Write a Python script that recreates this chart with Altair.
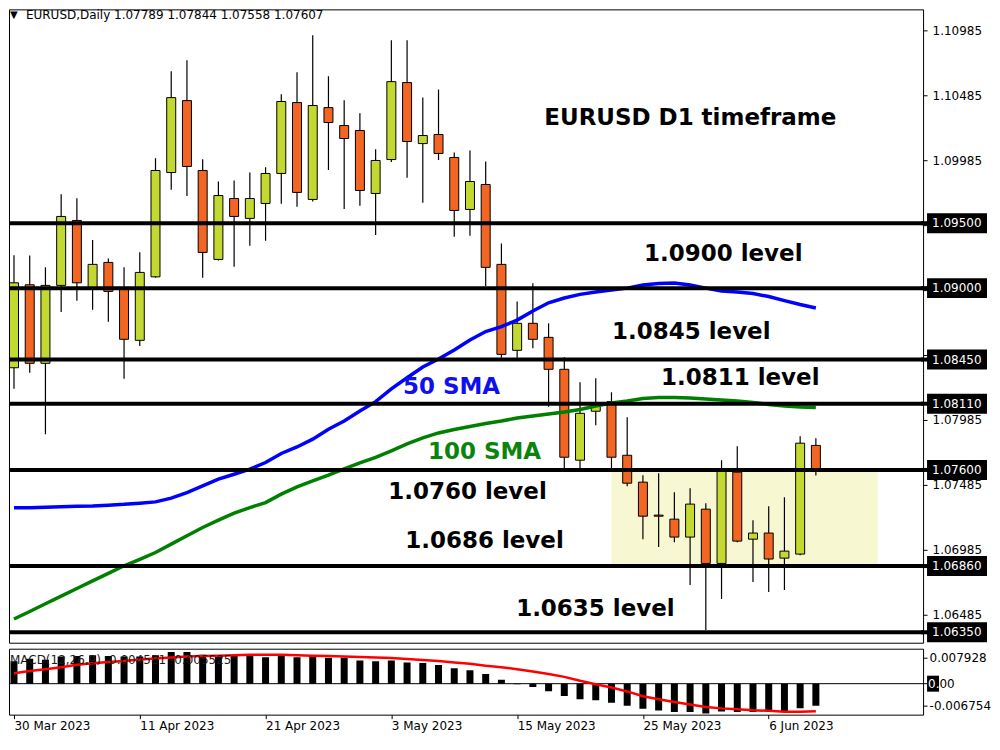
import altair as alt
import pandas as pd

# ---------------- data ----------------
tick_index = [0, 8, 16, 24, 32, 40, 48]
tick_labels = ["30 Mar 2023", "11 Apr 2023", "21 Apr 2023", "3 May 2023",
               "15 May 2023", "25 May 2023", "6 Jun 2023"]

open_ = [1.08387, 1.09026, 1.08421, 1.09021, 1.09521, 1.09003, 1.09198, 1.09003, 1.08598, 1.09087,
         1.09890, 1.10444, 1.09906, 1.09221, 1.09690, 1.09537, 1.09652, 1.09883, 1.10429, 1.09683,
         1.10390, 1.10252, 1.10214, 1.09729, 1.09990, 1.10583, 1.10113, 1.10183, 1.10006, 1.09606,
         1.09798, 1.09183, 1.08521, 1.08729, 1.08621, 1.08375, 1.07675, 1.08052, 1.08126, 1.07713,
         1.07506, 1.07252, 1.07221, 1.07083, 1.07298, 1.06880, 1.07583, 1.07067, 1.07114, 1.06921,
         1.06952, 1.07789]
high = [1.09254, 1.09252, 1.09160, 1.09723, 1.09693, 1.09370, 1.09229, 1.09160, 1.09277, 1.10000,
        1.10670, 1.10754, 1.09993, 1.09821, 1.09829, 1.09890, 1.09931, 1.10493, 1.10662, 1.10947,
        1.10631, 1.10447, 1.10347, 1.10070, 1.10908, 1.10908, 1.10467, 1.10529, 1.10044, 1.10060,
        1.09975, 1.09344, 1.08898, 1.09037, 1.08729, 1.08467, 1.08275, 1.08306, 1.08198, 1.08006,
        1.07560, 1.07575, 1.07429, 1.07460, 1.07344, 1.07675, 1.07783, 1.07213, 1.07321, 1.07390,
        1.07860, 1.07844]
low = [1.08226, 1.08349, 1.07875, 1.08816, 1.08903, 1.08833, 1.08741, 1.08303, 1.08554, 1.09080,
       1.09757, 1.09710, 1.09080, 1.09213, 1.09164, 1.09326, 1.09364, 1.09649, 1.09626, 1.09667,
       1.09910, 1.09610, 1.09634, 1.09410, 1.09972, 1.09849, 1.09657, 1.09987, 1.09395, 1.09403,
       1.09014, 1.08464, 1.08464, 1.08537, 1.08087, 1.07613, 1.07613, 1.07944, 1.07613, 1.07475,
       1.07067, 1.07006, 1.07044, 1.06714, 1.06367, 1.06606, 1.07044, 1.06737, 1.06660, 1.06675,
       1.06944, 1.07558]
close = [1.09041, 1.08421, 1.09021, 1.09552, 1.09041, 1.09183, 1.08975, 1.08606, 1.09121, 1.09906,
         1.10467, 1.09937, 1.09275, 1.09713, 1.09552, 1.09690, 1.09883, 1.10437, 1.09737, 1.10406,
         1.10275, 1.10152, 1.09752, 1.09983, 1.10590, 1.10129, 1.10175, 1.10037, 1.09598, 1.09821,
         1.09160, 1.08490, 1.08729, 1.08606, 1.08375, 1.07698, 1.08036, 1.08106, 1.07698, 1.07498,
         1.07244, 1.07244, 1.07083, 1.07337, 1.06880, 1.07598, 1.07052, 1.07114, 1.06914, 1.06975,
         1.07806, 1.07607]
sma50 = [1.07308, 1.07308, 1.07312, 1.07316, 1.07320, 1.07323, 1.07329, 1.07335, 1.07344, 1.07354,
         1.07383, 1.07426, 1.07477, 1.07529, 1.07567, 1.07606, 1.07657, 1.07727, 1.07777, 1.07837,
         1.07914, 1.07977, 1.08054, 1.08126, 1.08224, 1.08310, 1.08393, 1.08454, 1.08524, 1.08600,
         1.08666, 1.08704, 1.08754, 1.08824, 1.08887, 1.08924, 1.08952, 1.08970, 1.08985, 1.09000,
         1.09024, 1.09035, 1.09039, 1.09024, 1.09000, 1.08977, 1.08970, 1.08958, 1.08935, 1.08904,
         1.08874, 1.08847]
sma100 = [1.06452, 1.06510, 1.06570, 1.06628, 1.06687, 1.06746, 1.06804, 1.06862, 1.06912, 1.06964,
          1.07029, 1.07093, 1.07157, 1.07213, 1.07267, 1.07310, 1.07349, 1.07414, 1.07470, 1.07516,
          1.07560, 1.07608, 1.07654, 1.07697, 1.07747, 1.07800, 1.07847, 1.07885, 1.07912, 1.07935,
          1.07958, 1.07977, 1.08000, 1.08016, 1.08031, 1.08047, 1.08066, 1.08093, 1.08116, 1.08131,
          1.08150, 1.08158, 1.08158, 1.08154, 1.08147, 1.08139, 1.08131, 1.08120, 1.08104, 1.08093,
          1.08085, 1.08080]
macd_main = [0.00684, 0.00754, 0.00725, 0.00822, 0.00842, 0.00862, 0.00842, 0.00822, 0.00822, 0.00862,
             0.00959, 0.00959, 0.00881, 0.00862, 0.00862, 0.00842, 0.00803, 0.00842, 0.00803, 0.00842,
             0.00783, 0.00783, 0.00705, 0.00684, 0.00705, 0.00646, 0.00626, 0.00568, 0.00470, 0.00411,
             0.00294, 0.00117, -0.00020, -0.00097, -0.00226, -0.00373, -0.00470, -0.00499, -0.00578, -0.00666,
             -0.00763, -0.00813, -0.00860, -0.00860, -0.00901, -0.00843, -0.00860, -0.00860, -0.00843, -0.00843,
             -0.00743, -0.00666]
macd_signal = [0.00314, 0.00382, 0.00440, 0.00499, 0.00573, 0.00617, 0.00661, 0.00690, 0.00734, 0.00763,
               0.00793, 0.00822, 0.00837, 0.00851, 0.00866, 0.00881, 0.00881, 0.00881, 0.00866, 0.00851,
               0.00837, 0.00822, 0.00807, 0.00793, 0.00778, 0.00749, 0.00719, 0.00690, 0.00646, 0.00602,
               0.00543, 0.00499, 0.00440, 0.00367, 0.00294, 0.00206, 0.00088, -0.00015, -0.00117, -0.00235,
               -0.00382, -0.00470, -0.00558, -0.00631, -0.00705, -0.00749, -0.00778, -0.00807, -0.00822, -0.00851,
               -0.00851, -0.00837]

levels = [1.0950, 1.0900, 1.0845, 1.0811, 1.0760, 1.0686, 1.0635]
level_labels = ["1.09500", "1.09000", "1.08450", "1.08110", "1.07600", "1.06860", "1.06350"]
price_ticks = [1.06485, 1.06985, 1.07485, 1.07985, 1.08485, 1.08985, 1.09485, 1.09985, 1.10485, 1.10985]
macd_ticks = [0.007928, -0.006754]
zone_x = [38, 54.94]
zone_y = [1.0760, 1.0686]

# ---------------- tables ----------------
n = len(close)
bars = pd.DataFrame({
    "k": list(range(n)), "open": open_, "high": high, "low": low, "close": close,
    "dir": ["bull" if c >= o else "bear" for o, c in zip(open_, close)],
    "sma50": sma50, "sma100": sma100, "macd": macd_main, "signal": macd_signal,
})
levels_df = pd.DataFrame({"level": levels, "label": level_labels})
zone_df = pd.DataFrame({"x0": [zone_x[0]], "x1": [zone_x[1]], "y0": [zone_y[0]], "y1": [zone_y[1]]})
zero_df = pd.DataFrame({"v": [0.0]})

W, H, MH = 915, 634, 66
BULL, BEAR = "#c3d932", "#f26522"
FONT = "DejaVu Sans"

xscale = alt.Scale(domain=[0, 57.5], nice=False, zero=False)
yscale = alt.Scale(domain=[1.062696, 1.111465], nice=False, zero=False)
mscale = alt.Scale(domain=[-0.009394, 0.010606], nice=False, zero=False)

yaxis = alt.Axis(orient="right", values=price_ticks, format=".5f", tickSize=4,
                 labelPadding=5, title=None, domain=False, grid=False)
label_expr = "[%s][indexof([%s], datum.value)]" % (
    ",".join("'%s'" % t for t in tick_labels), ",".join(str(i) for i in tick_index))
xaxis = alt.Axis(values=tick_index, labelExpr=label_expr, tickSize=4, labelPadding=2,
                 labelAlign="left", labelFlush=False, title=None, domain=False, grid=False)
maxis = alt.Axis(orient="right", values=macd_ticks, tickSize=4, labelPadding=2,
                 labelExpr="replace(format(datum.value, '.6f'), '\u2212', '-')",
                 title=None, domain=False, grid=False)


def X(f):
    return alt.X(f, type="quantitative", scale=xscale, axis=None)


def XM(f):
    return alt.X(f, type="quantitative", scale=xscale, axis=xaxis)


def Y(f):
    return alt.Y(f, type="quantitative", scale=yscale, axis=yaxis)


def M(f):
    return alt.Y(f, type="quantitative", scale=mscale, axis=maxis)


# ---------------- price panel ----------------
zone = alt.Chart(zone_df).mark_rect(color="#f7f7d2", clip=True).encode(
    x=X("x0"), x2="x1", y=Y("y0"), y2="y1")

base = alt.Chart(bars)
wicks = base.mark_rule(color="black", strokeWidth=1.2, clip=True).encode(
    x=X("k"), y=Y("low"), y2="high")
bodies = base.mark_bar(size=9, stroke="black", strokeWidth=1, clip=True).encode(
    x=X("k"), y=Y("open"), y2="close",
    fill=alt.Fill("dir:N", scale=alt.Scale(domain=["bull", "bear"], range=[BULL, BEAR]), legend=None))

level_rules = alt.Chart(levels_df).mark_rule(color="black", strokeWidth=4, clip=True).encode(
    y=Y("level"), x=alt.value(0), x2=alt.value(W))
level_stubs = alt.Chart(levels_df).mark_rule(color="black", strokeWidth=4).encode(
    y=Y("level"), x=alt.value(W - 2), x2=alt.value(W + 5))

line50 = base.mark_line(color="#0000ff", strokeWidth=3.5, clip=True).encode(x=X("k"), y=Y("sma50"))
line100 = base.mark_line(color="#008000", strokeWidth=3.5, clip=True).encode(x=X("k"), y=Y("sma100"))

BOX = "M-1,-0.3333H1V0.3333H-1Z"
level_boxes = alt.Chart(levels_df).mark_point(shape=BOX, size=3600, filled=True, color="black",
                                              opacity=1, strokeWidth=0).encode(
    y=Y("level"), x=alt.value(W + 34))
level_text = alt.Chart(levels_df).mark_text(color="white", align="left", baseline="middle",
                                            font=FONT, fontSize=12).encode(
    y=Y("level"), x=alt.value(W + 9), text="label:N")


def note(text, x, y, color="black", size=23, weight="bold", align="center"):
    return alt.Chart(zero_df).mark_text(text=text, color=color, font=FONT, fontSize=size,
                                        fontWeight=weight, align=align, baseline="middle").encode(
        x=alt.value(x), y=alt.value(y))


notes = [
    note("EURUSD D1 timeframe", 682, 109),
    note("1.0900 level", 715, 245),
    note("1.0845 level", 683, 323),
    note("1.0811 level", 732, 369),
    note("50 SMA", 443, 378, color="#1010ee"),
    note("100 SMA", 476, 443, color="#0a840a"),
    note("1.0760 level", 459, 483),
    note("1.0686 level", 476, 532),
    note("1.0635 level", 587, 600),
    note("\u25bc", 1, 6, size=10, weight="normal", align="left"),
    note("EURUSD,Daily  %.5f %.5f %.5f %.5f" % (open_[-1], high[-1], low[-1], close[-1]),
         17, 6, size=12, weight="normal", align="left"),
]

main = alt.layer(zone, wicks, bodies, line100, line50, level_rules, level_stubs, level_boxes,
                 level_text, *notes).properties(width=W, height=H)

# ---------------- MACD panel ----------------
hist = base.mark_bar(size=7, color="black", clip=True).encode(
    x=XM("k"), y=M("macd"), y2=alt.datum(0))
zero_rule = alt.Chart(zero_df).mark_rule(color="black", strokeWidth=1).encode(
    y=M("v"), x=alt.value(1), x2=alt.value(W + 4))
sig = base.mark_line(color="#ff0000", strokeWidth=2.5, clip=True).encode(x=XM("k"), y=M("signal"))
zero_lab = alt.Chart(zero_df).mark_text(text="0.00", color="black", font=FONT, fontSize=12,
                                        align="left", baseline="middle").encode(
    x=alt.value(W + 5), y=M("v"))
zero_box = alt.Chart(zero_df).mark_point(shape="M-0.75,-1H0.75V1H-0.75Z", size=256, filled=True,
                                         color="black", opacity=1, strokeWidth=0).encode(
    x=alt.value(W + 10), y=M("v"))
zero_lab2 = alt.Chart(zero_df).mark_text(text="0.", color="white", font=FONT, fontSize=12,
                                         align="left", baseline="middle").encode(
    x=alt.value(W + 5), y=M("v"))
macd_head = alt.Chart(zero_df).mark_text(text="MACD(12,26,9) -0.004581 -0.005525", color="#1a1a1a",
                                         font=FONT, fontSize=12, align="left",
                                         baseline="middle").encode(
    x=alt.value(1), y=alt.value(11))

macd = alt.layer(hist, zero_rule, sig, macd_head, zero_lab, zero_box, zero_lab2).properties(
    width=W, height=MH)

chart = alt.vconcat(main, macd, spacing=4, padding=0).configure(background="white").configure_view(
    stroke="black", strokeWidth=1).configure_axis(
    labelFont=FONT, labelFontSize=12, labelColor="black", tickColor="black")

chart.save("out.html", embed_options={"renderer": "svg", "actions": False})
